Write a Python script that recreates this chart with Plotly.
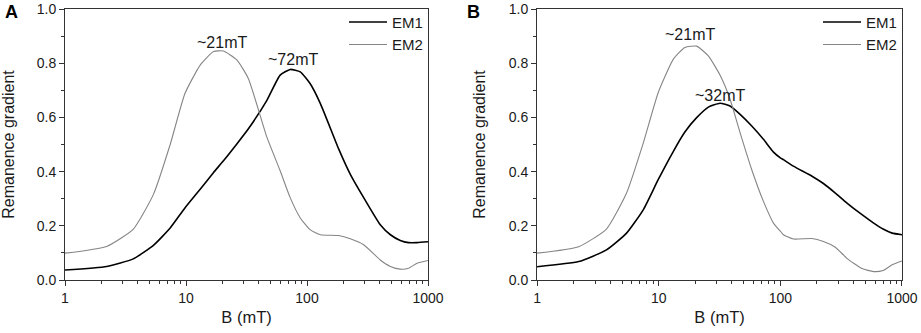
import math
import plotly.graph_objects as go

# ---------------- data ----------------
b_a = [1, 2.21, 3.67, 5.38, 7.4, 9.8, 13.1, 16.9, 20.4, 26.3, 32.8, 46.6, 60, 72.6, 88, 106, 129, 183, 228, 294, 403, 489, 590, 690, 812, 1000]
em1_a = [0.037, 0.050, 0.078, 0.128, 0.192, 0.266, 0.335, 0.397, 0.440, 0.502, 0.558, 0.663, 0.756, 0.777, 0.768, 0.725, 0.651, 0.483, 0.390, 0.304, 0.204, 0.167, 0.146, 0.138, 0.138, 0.141]
em2_a = [0.099, 0.124, 0.188, 0.316, 0.500, 0.688, 0.793, 0.843, 0.845, 0.812, 0.743, 0.527, 0.403, 0.304, 0.229, 0.186, 0.167, 0.164, 0.152, 0.130, 0.074, 0.050, 0.040, 0.043, 0.062, 0.072]

b_b = [1, 2.2, 3.72, 5.44, 7.46, 9.9, 13.2, 16.4, 20.5, 25.6, 31.9, 38.6, 46.7, 58.2, 72.6, 87.8, 100, 106, 128, 182, 226, 283, 353, 469, 585, 699, 830, 1000]
em1_b = [0.049, 0.068, 0.111, 0.173, 0.259, 0.370, 0.475, 0.546, 0.599, 0.638, 0.652, 0.642, 0.611, 0.568, 0.519, 0.472, 0.451, 0.444, 0.420, 0.383, 0.356, 0.321, 0.284, 0.241, 0.210, 0.188, 0.173, 0.167]
em2_b = [0.099, 0.123, 0.188, 0.321, 0.505, 0.691, 0.815, 0.858, 0.863, 0.827, 0.756, 0.667, 0.543, 0.407, 0.290, 0.210, 0.180, 0.167, 0.151, 0.153, 0.142, 0.121, 0.080, 0.042, 0.031, 0.035, 0.056, 0.070]

series_names = ["EM1", "EM2"]
panel_letters = ["A", "B"]
peak_labels_a = ["~21mT", "~72mT"]
peak_x_a = [20, 77]
peak_y_a = [0.878, 0.812]
peak_labels_b = ["~21mT", "~32mT"]
peak_x_b = [18.1, 32]
peak_y_b = [0.907, 0.681]
x_ticks = [1, 10, 100, 1000]
x_tick_labels = ["1", "10", "100", "1000"]
y_ticks = [0.0, 0.2, 0.4, 0.6, 0.8, 1.0]
y_tick_labels = ["0.0", "0.2", "0.4", "0.6", "0.8", "1.0"]

FONT = "Liberation Sans, Arial, sans-serif"
C1 = "#000000"
C2 = "#858585"
TXT = "#1a1a1a"

fig = go.Figure()

for xs, y1, y2, xa, ya, lg in [(b_a, em1_a, em2_a, "x", "y", "legend"),
                               (b_b, em1_b, em2_b, "x2", "y2", "legend2")]:
    fig.add_trace(go.Scatter(x=xs, y=y1, name=series_names[0], mode="lines",
                             line=dict(color=C1, width=1.6, shape="spline", smoothing=0.5),
                             xaxis=xa, yaxis=ya, legend=lg, hoverinfo="skip"))
    fig.add_trace(go.Scatter(x=xs, y=y2, name=series_names[1], mode="lines",
                             line=dict(color=C2, width=1.1, shape="spline", smoothing=0.5),
                             xaxis=xa, yaxis=ya, legend=lg, hoverinfo="skip"))

minor_x = [2, 3, 4, 5, 6, 7, 8, 9, 20, 30, 40, 50, 60, 70, 80, 90,
           200, 300, 400, 500, 600, 700, 800, 900]

xaxis_common = dict(type="log", range=[0, 3], tickvals=x_ticks, ticktext=x_tick_labels,
                    ticks="outside", ticklen=5, tickwidth=1, tickcolor="#333",
                    minor=dict(ticks="outside", ticklen=3, tickcolor="#333", tickvals=minor_x),
                    showline=True, linecolor="#333", linewidth=1, mirror=True,
                    showgrid=False, zeroline=False, automargin=False,
                    tickfont=dict(family=FONT, size=14, color=TXT),
                    title=dict(text="B (mT)", font=dict(family=FONT, size=16.5, color=TXT), standoff=6))
yaxis_common = dict(range=[0, 1.0], tickvals=y_ticks, ticktext=y_tick_labels,
                    ticks="outside", ticklen=5, tickwidth=1, tickcolor="#333",
                    minor=dict(ticks="outside", ticklen=3, tickcolor="#333", dtick=0.1),
                    showline=True, linecolor="#333", linewidth=1, mirror=True,
                    showgrid=False, zeroline=False, automargin=False,
                    tickfont=dict(family=FONT, size=14, color=TXT),
                    title=dict(text="Remanence gradient", font=dict(family=FONT, size=16, color=TXT), standoff=19))

legend_common = dict(bgcolor="rgba(0,0,0,0)", borderwidth=0,
                     font=dict(family=FONT, size=15, color=TXT),
                     xanchor="right", yanchor="top", tracegroupgap=0, itemwidth=38)

fig.update_layout(
    template="none",
    width=921, height=333,
    margin=dict(l=65, r=19, t=9, b=53, autoexpand=False),
    paper_bgcolor="white", plot_bgcolor="white",
    font=dict(family=FONT, size=14, color=TXT),
    xaxis=dict(domain=[0, 0.4337], anchor="y", **xaxis_common),
    yaxis=dict(domain=[0, 1], anchor="x", **yaxis_common),
    xaxis2=dict(domain=[0.564, 1], anchor="y2", **xaxis_common),
    yaxis2=dict(domain=[0, 1], anchor="x2", **yaxis_common),
    legend=dict(x=0.4337, y=1.012, **legend_common),
    legend2=dict(x=1.0, y=1.012, **legend_common),
    showlegend=True,
    hovermode=False,
)

annotations = []
for t, x, y in zip(peak_labels_a, peak_x_a, peak_y_a):
    annotations.append(dict(text=t, x=math.log10(x), y=y, xref="x", yref="y",
                            showarrow=False, font=dict(family=FONT, size=16, color=TXT)))
for t, x, y in zip(peak_labels_b, peak_x_b, peak_y_b):
    annotations.append(dict(text=t, x=math.log10(x), y=y, xref="x2", yref="y2",
                            showarrow=False, font=dict(family=FONT, size=16, color=TXT)))
letter_x = [(3 - 65) / 837, (465 - 65) / 837]
for t, lx in zip(panel_letters, letter_x):
    annotations.append(dict(text="<b>" + t + "</b>", x=lx, y=0.99, xref="paper", yref="paper",
                            xanchor="left", yanchor="middle", showarrow=False,
                            font=dict(family=FONT, size=18, color="#000")))
fig.update_layout(annotations=annotations)

fig.write_html("out.html",
               config={"displayModeBar": False, "staticPlot": True},
               post_script="document.body.style.margin='0';document.body.style.overflow='hidden';")
